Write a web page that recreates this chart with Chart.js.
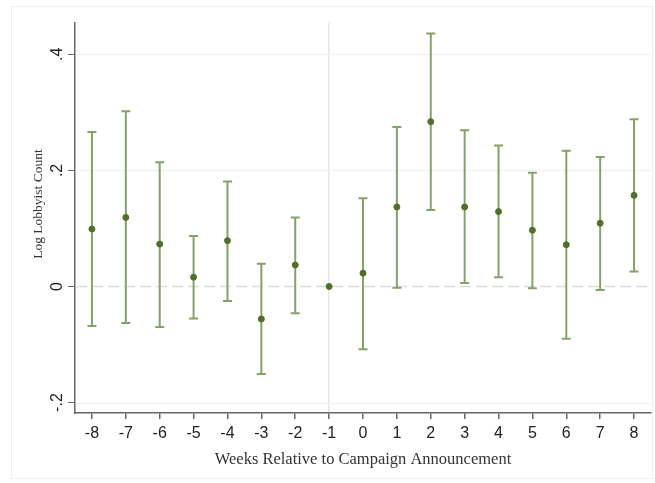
<!DOCTYPE html>
<html>
<head>
<meta charset="utf-8">
<script src="https://cdn.jsdelivr.net/npm/chart.js@4.4.1/dist/chart.umd.min.js"></script>
<style>
  html, body { margin: 0; padding: 0; background: #fff; }
  #wrap { width: 655px; height: 483px; }
</style>
</head>
<body>
<div id="wrap"><canvas class="chart"></canvas></div>
<script>
// event-study estimates
const weeks = [-8, -7, -6, -5, -4, -3, -2, -1, 0, 1, 2, 3, 4, 5, 6, 7, 8];
const coef  = [0.099, 0.119, 0.073, 0.016, 0.079, -0.056, 0.037, 0, 0.023, 0.137, 0.284, 0.137, 0.129, 0.097, 0.072, 0.109, 0.157];
const upper = [0.266, 0.302, 0.214, 0.087, 0.181, 0.039, 0.119, 0, 0.152, 0.275, 0.436, 0.269, 0.243, 0.196, 0.234, 0.223, 0.288];
const lower = [-0.068, -0.063, -0.070, -0.055, -0.025, -0.151, -0.046, 0, -0.108, -0.002, 0.132, 0.006, 0.016, -0.003, -0.090, -0.006, 0.026];

const xTickLabels = weeks.map(String);
const yTickValues = [-0.2, 0, 0.2, 0.4];
const yTickLabels = ['-.2', '0', '.2', '.4'];
const yTitle = 'Log Lobbyist Count';

const BAR = '#86a167';
const DOT = '#4f7029';
const AXIS = '#666';

var ctx = document.querySelector('.chart');

// faint frame, gridlines, dashed zero line, rotated y labels, error bars
const decor = {
  id: 'decor',
  beforeDraw(chart) {
    const c = chart.ctx;
    c.save();
    c.strokeStyle = '#f0f0f0';
    c.lineWidth = 1;
    c.strokeRect(11.5, 6.5, 641, 472);
    c.restore();
  },
  beforeDatasetsDraw(chart) {
    const c = chart.ctx;
    const y = chart.scales.y;
    const area = chart.chartArea;
    c.save();
    yTickValues.forEach(function(v) {
      const py = Math.round(y.getPixelForValue(v)) + 0.5;
      c.beginPath();
      if (v === 0) {
        c.strokeStyle = '#d7dede';
        c.setLineDash([11, 5]);
      } else {
        c.strokeStyle = '#eef3f3';
        c.setLineDash([]);
      }
      c.lineWidth = 1.5;
      c.moveTo(area.left + 1, py);
      c.lineTo(area.right, py);
      c.stroke();
    });
    c.setLineDash([]);

    // error bars
    const x = chart.scales.x;
    c.strokeStyle = BAR;
    c.lineWidth = 2;
    weeks.forEach(function(w, i) {
      if (upper[i] === lower[i]) return;
      const px = x.getPixelForValue(w);
      const top = y.getPixelForValue(upper[i]);
      const bot = y.getPixelForValue(lower[i]);
      c.beginPath();
      c.moveTo(px, top);
      c.lineTo(px, bot);
      c.moveTo(px - 4.5, top);
      c.lineTo(px + 4.5, top);
      c.moveTo(px - 4.5, bot);
      c.lineTo(px + 4.5, bot);
      c.stroke();
    });
    c.restore();
  },
  afterDraw(chart) {
    const c = chart.ctx;
    const y = chart.scales.y;
    c.save();
    c.fillStyle = '#222';
    c.font = '16px "Liberation Sans", Arial, sans-serif';
    c.textAlign = 'center';
    c.textBaseline = 'middle';
    yTickValues.forEach(function(v, i) {
      c.save();
      c.translate(58, y.getPixelForValue(v));
      c.rotate(-Math.PI / 2);
      c.fillText(yTickLabels[i], 0, 0);
      c.restore();
    });
    // y axis title
    c.fillStyle = '#333';
    c.font = '13.5px "Liberation Serif", "Times New Roman", serif';
    c.translate(38, 204);
    c.rotate(-Math.PI / 2);
    c.fillText(yTitle, 0, 0);
    c.restore();
  }
};

var myChart = new Chart(ctx, {
  type: 'scatter',
  data: {
    datasets: [{
      data: weeks.map(function(w, i) { return { x: w, y: coef[i] }; }),
      backgroundColor: DOT,
      borderColor: DOT,
      pointRadius: 3,
      pointHoverRadius: 3
    }]
  },
  options: {
    responsive: true,
    maintainAspectRatio: false,
    animation: false,
    layout: { padding: { top: 23, right: 2, left: 0, bottom: 0 } },
    plugins: {
      legend: { display: false },
      tooltip: { enabled: false }
    },
    scales: {
      x: {
        type: 'linear',
        min: -8.5,
        max: 8.5,
        afterBuildTicks: function(scale) {
          scale.ticks = weeks.map(function(w) { return { value: w }; });
        },
        afterFit: function(scale) { scale.height = 70; },
        border: { color: AXIS, width: 1.5 },
        grid: {
          color: function(c) { return c.tick && c.tick.value === -1 ? '#e6e6e6' : 'rgba(0,0,0,0)'; },
          lineWidth: 1.5,
          tickColor: AXIS,
          tickLength: 6,
          drawTicks: true
        },
        ticks: {
          color: '#222',
          padding: 5,
          maxRotation: 0,
          font: { family: '"Liberation Sans", Arial, sans-serif', size: 16 },
          callback: function(v, i) { return xTickLabels[i]; }
        },
        title: {
          display: true,
          text: 'Weeks Relative to Campaign Announcement',
          color: '#333',
          font: { family: '"Liberation Serif", "Times New Roman", serif', size: 16.5 },
          padding: { top: 0, bottom: 13 }
        }
      },
      y: {
        type: 'linear',
        min: -0.218,
        max: 0.454,
        afterBuildTicks: function(scale) {
          scale.ticks = yTickValues.map(function(v) { return { value: v }; });
        },
        afterFit: function(scale) { scale.width = 75; },
        border: { color: AXIS, width: 1.5 },
        grid: {
          color: 'rgba(0,0,0,0)',
          tickColor: AXIS,
          tickLength: 7
        },
        ticks: { display: false },
        title: { display: false }
      }
    }
  },
  plugins: [decor]
});
</script>
</body>
</html>
